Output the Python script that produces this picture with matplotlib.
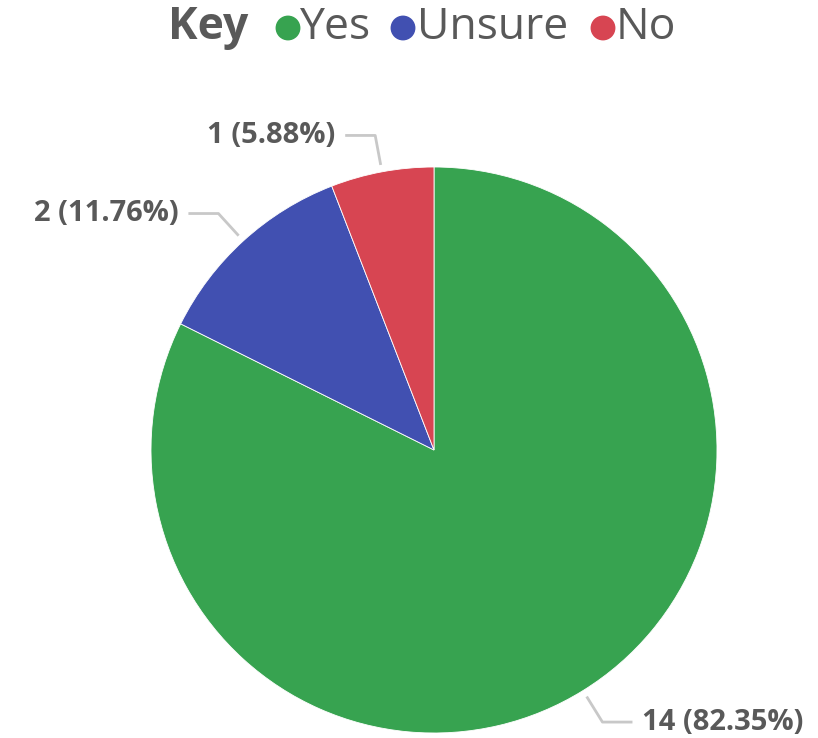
import numpy as np
import matplotlib.pyplot as plt

labels = ['Yes', 'Unsure', 'No']
counts = [14, 2, 1]
pcts = [82.35, 11.76, 5.88]
colors = ['#37a350', '#4150b1', '#d74552']

W, H = 818, 738
plt.rcParams['font.family'] = ['Open Sans', 'DejaVu Sans']

fig = plt.figure(figsize=(W / 100, H / 100), dpi=100)
ax = fig.add_axes([0, 0, 1, 1])
ax.set_xlim(0, W)
ax.set_ylim(0, H)
ax.set_aspect('equal')
ax.axis('off')

cx, cy, r = 434, H - 450, 283
wedges, _ = ax.pie(counts, colors=colors, startangle=90, counterclock=False,
                   center=(cx, cy), radius=r,
                   wedgeprops=dict(edgecolor='white', linewidth=0.6))
ax.set_xlim(0, W)
ax.set_ylim(0, H)

# leader lines + labels
for w, c, p in zip(wedges, counts, pcts):
    mid = np.deg2rad((w.theta1 + w.theta2) / 2)
    x0, y0 = cx + 290 * np.cos(mid), cy + 290 * np.sin(mid)
    x1, y1 = cx + 320 * np.cos(mid), cy + 320 * np.sin(mid)
    side = 1 if np.cos(mid) > 0 else -1
    x2 = x1 + side * 30
    ax.plot([x0, x1, x2], [y0, y1, y1], color='#c8c8c8', lw=2, solid_capstyle='butt')
    ax.text(x2 + side * 10, y1, f'{c} ({p:.2f}%)', ha='left' if side > 0 else 'right',
            va='center', fontsize=21, fontweight='bold', color='#595959')

# legend row
ly = H - 28
ax.text(168, ly, 'Key', fontsize=32, fontweight='bold', color='#595959', va='center', ha='left')
leg = [(288, 300), (403, 417), (603, 616)]
for (dx, tx), lab, col in zip(leg, labels, colors):
    ax.scatter([dx], [ly], s=320, color=col, edgecolors='none')
    ax.text(tx, ly, lab, fontsize=32, color='#595959', va='center', ha='left')

fig.savefig('out.png', dpi=100)
